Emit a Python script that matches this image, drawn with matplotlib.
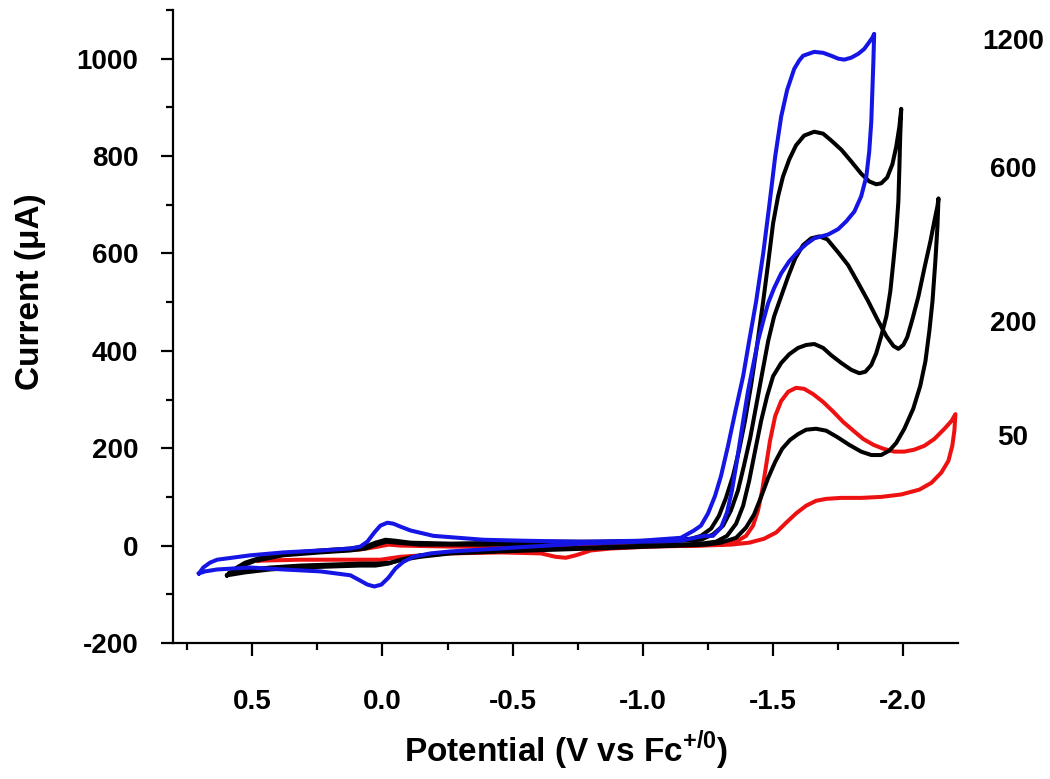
import matplotlib
matplotlib.use("Agg")
import matplotlib.pyplot as plt
from matplotlib.ticker import MultipleLocator

plt.rcParams['font.family'] = ['Liberation Sans', 'DejaVu Sans']
plt.rcParams['axes.unicode_minus'] = False
plt.rcParams['mathtext.fontset'] = 'custom'
plt.rcParams['mathtext.rm'] = 'Liberation Sans'
plt.rcParams['mathtext.bf'] = 'Liberation Sans:bold'

# --- data: potential (V vs Fc+/0) and current (uA), one closed loop per scan rate ---
pot_50 = [0.477, 0.431, 0.354, 0.238, 0.085, 0.015, -0.023, -0.069, -0.262, -0.454, -0.685, -0.915, -1.146, -1.300,
          -1.358, -1.396, -1.423, -1.442, -1.458, -1.473, -1.488, -1.508, -1.531, -1.558, -1.588, -1.619, -1.654,
          -1.692, -1.731, -1.769, -1.808, -1.846, -1.885, -1.923, -1.965, -2.004, -2.042, -2.081, -2.119, -2.158,
          -2.185, -2.200,
          -2.196, -2.188, -2.173, -2.146, -2.108, -2.062, -1.992, -1.915, -1.838, -1.762, -1.704, -1.665, -1.627,
          -1.588, -1.550, -1.512, -1.465, -1.408, -1.338,
          -1.223, -1.031, -0.877, -0.800, -0.742, -0.704, -0.665, -0.608, -0.454, -0.262, -0.069, 0.008, 0.162,
          0.315, 0.477]
cur_50 = [-31, -20, -16, -12, -8, -2, 2, 0, -2, -2, 0, 0, 0, 2,
          8, 20, 41, 72, 113, 164, 215, 266, 297, 316, 324, 322, 311,
          295, 275, 254, 236, 219, 207, 199, 193, 193, 197, 205, 219, 240,
          256, 270,
          236, 205, 174, 150, 129, 115, 105, 100, 98, 98, 96, 92, 82,
          66, 47, 27, 14, 6, 2,
          0, -2, -6, -10, -20, -25, -23, -16, -14, -16, -23, -29, -29,
          -29, -31]

pot_200 = [0.588, 0.546, 0.488, 0.381, 0.238, 0.123, 0.065, 0.023, -0.015, -0.054, -0.146, -0.377, -0.608, -0.838,
           -1.069, -1.223,
           -1.269, -1.308, -1.338, -1.365, -1.388, -1.412, -1.435, -1.458, -1.481, -1.504, -1.531, -1.558, -1.585,
           -1.615, -1.646, -1.677, -1.708, -1.750, -1.788, -1.827, -1.865, -1.900, -1.935, -1.962, -1.981, -2.000,
           -2.015, -2.035, -2.058, -2.081, -2.104, -2.119, -2.131, -2.135,
           -2.131, -2.123, -2.112, -2.100, -2.085, -2.065, -2.038, -2.004, -1.973, -1.946, -1.915, -1.877, -1.838,
           -1.792, -1.746, -1.704, -1.665, -1.627, -1.596, -1.565, -1.535, -1.508, -1.481, -1.454, -1.427, -1.396,
           -1.358, -1.300, -1.242,
           -1.146, -0.915, -0.685, -0.454, -0.262, -0.146, -0.077, -0.031, 0.023, 0.085, 0.200, 0.315, 0.431,
           0.527, 0.588]
cur_200 = [-57, -43, -31, -20, -14, -10, -6, 2, 8, 6, 2, 2, 4, 6,
           8, 12,
           23, 41, 72, 113, 164, 221, 287, 354, 420, 471, 512, 553, 590,
           617, 631, 635, 629, 602, 576, 539, 502, 465, 430, 410, 404, 412,
           428, 465, 512, 570, 625, 666, 697, 713,
           656, 584, 502, 441, 379, 328, 281, 240, 211, 195, 186, 186, 193,
           207, 223, 236, 240, 238, 229, 217, 199, 172, 139, 100, 64, 37,
           16, 6, 2,
           0, -4, -8, -12, -16, -23, -29, -35, -37, -37, -39, -41, -45,
           -51, -57]

pot_600 = [0.596, 0.565, 0.527, 0.469, 0.381, 0.238, 0.123, 0.065, 0.027, -0.012, -0.050, -0.108, -0.262, -0.454,
           -0.646, -0.838, -1.031, -1.185,
           -1.223, -1.262, -1.292, -1.319, -1.346, -1.369, -1.392, -1.415, -1.438, -1.462, -1.481, -1.500, -1.519,
           -1.538, -1.562, -1.588, -1.619, -1.658, -1.692, -1.723, -1.762, -1.800, -1.838, -1.869, -1.896, -1.915,
           -1.938, -1.958, -1.973, -1.985, -1.992,
           -1.988, -1.985, -1.981, -1.973, -1.962, -1.950, -1.935, -1.915, -1.896, -1.877, -1.854, -1.831, -1.800,
           -1.762, -1.723, -1.692, -1.658, -1.627, -1.596, -1.562, -1.531, -1.500, -1.477, -1.454, -1.431, -1.408,
           -1.385, -1.358, -1.323, -1.281, -1.223,
           -1.146, -0.915, -0.685, -0.454, -0.262, -0.146, -0.069, -0.023, 0.027, 0.085, 0.200, 0.315, 0.431,
           0.527, 0.596]
cur_600 = [-61, -47, -35, -25, -16, -10, -6, -2, 6, 12, 10, 6, 4, 6,
           8, 8, 10, 14,
           20, 35, 61, 98, 143, 195, 256, 328, 410, 502, 580, 662, 717,
           758, 793, 822, 842, 850, 846, 832, 813, 789, 764, 748, 742, 744,
           756, 783, 820, 861, 897,
           840, 779, 707, 645, 584, 522, 471, 430, 395, 371, 357, 354, 361,
           375, 391, 406, 414, 412, 406, 393, 375, 348, 307, 256, 195, 133,
           82, 45, 20, 8, 4,
           2, -2, -6, -10, -14, -20, -29, -37, -41, -41, -43, -45, -49,
           -55, -61]

pot_1200 = [0.704, 0.688, 0.662, 0.635, 0.508, 0.381, 0.238, 0.123, 0.085, 0.058, 0.031, 0.008, -0.019, -0.042,
            -0.069, -0.108, -0.196, -0.388, -0.542, -0.762, -0.992, -1.146, -1.196,
            -1.223, -1.250, -1.277, -1.300, -1.327, -1.354, -1.385, -1.408, -1.435, -1.462, -1.485, -1.508, -1.531,
            -1.554, -1.581, -1.600, -1.615, -1.658, -1.692, -1.723, -1.750, -1.773, -1.800, -1.827, -1.850, -1.865,
            -1.881, -1.888,
            -1.885, -1.881, -1.877, -1.869, -1.858, -1.838, -1.812, -1.781, -1.750, -1.712, -1.658, -1.627, -1.596,
            -1.562, -1.531, -1.504, -1.481, -1.462, -1.442, -1.423, -1.404, -1.388, -1.373, -1.358, -1.342, -1.323,
            -1.300, -1.269, -1.235,
            -1.146, -0.992, -0.762, -0.569, -0.388, -0.262, -0.185, -0.119, -0.081, -0.050, -0.023, 0.004, 0.031,
            0.058, 0.085, 0.123, 0.238, 0.381, 0.508, 0.635, 0.681, 0.704]
cur_1200 = [-57, -45, -35, -29, -20, -14, -10, -6, -2, 8, 27, 41, 47, 45,
            39, 31, 20, 12, 10, 8, 10, 16, 31,
            41, 66, 102, 143, 205, 273, 348, 420, 502, 600, 697, 799, 881,
            936, 979, 996, 1006, 1014, 1012, 1006, 1000, 998, 1002, 1010, 1020, 1031,
            1043, 1051,
            994, 932, 871, 809, 758, 717, 686, 666, 650, 639, 631, 619, 604,
            584, 559, 529, 498, 461, 420, 369, 318, 266, 215, 164, 113, 68,
            37, 20, 20,
            10, 8, 4, -2, -8, -12, -16, -23, -33, -47, -66, -80, -84,
            -80, -72, -61, -53, -49, -45, -49, -53, -57]

scan_labels = ['1200', '600', '200', '50']
label_currents = [1035, 772, 455, 220]

fig = plt.figure(figsize=(10.5, 7.79), dpi=100)
ax = fig.add_axes([0.1648, 0.1746, 0.7476, 0.8126])

lw = 2.9
ax.plot(pot_50, cur_50, color='#ee1111', lw=lw, solid_joinstyle='round')
ax.plot(pot_200, cur_200, color='black', lw=lw, solid_joinstyle='round')
ax.plot(pot_600, cur_600, color='black', lw=lw, solid_joinstyle='round')
ax.plot(pot_1200, cur_1200, color='#1515e6', lw=lw, solid_joinstyle='round')

ax.set_xlim(0.804, -2.21)
ax.set_ylim(-200, 1100)
ax.xaxis.set_major_locator(MultipleLocator(0.5))
ax.xaxis.set_minor_locator(MultipleLocator(0.25))
ax.yaxis.set_major_locator(MultipleLocator(200))
ax.yaxis.set_minor_locator(MultipleLocator(100))
ax.xaxis.set_major_formatter(plt.FuncFormatter(lambda v, p: f"{v:.1f}"))

for side in ['top', 'right']:
    ax.spines[side].set_visible(False)
for side in ['left', 'bottom']:
    ax.spines[side].set_linewidth(1.6)

ax.tick_params(which='major', direction='out', length=9, width=1.6, labelsize=20)
ax.tick_params(which='minor', direction='out', length=5, width=1.6)
ax.tick_params(axis='x', which='major', pad=24)
ax.tick_params(axis='y', which='major', pad=16)
for lab in ax.get_xticklabels() + ax.get_yticklabels():
    lab.set_fontweight('bold')

ax.set_xlabel(r'Potential (V vs Fc$^{\mathbf{+/0}}$)', fontsize=24, fontweight='bold')
ax.set_ylabel('Current (μA)', fontsize=24, fontweight='bold')
ax.xaxis.set_label_coords(0.5, -0.135)
ax.yaxis.set_label_coords(-0.162, 0.555)

for txt, yv in zip(scan_labels, label_currents):
    ax.text(1.07, yv, txt, transform=ax.get_yaxis_transform(), ha='center', va='center',
            fontsize=20, fontweight='bold', clip_on=False)

fig.savefig('out.png', dpi=100)
